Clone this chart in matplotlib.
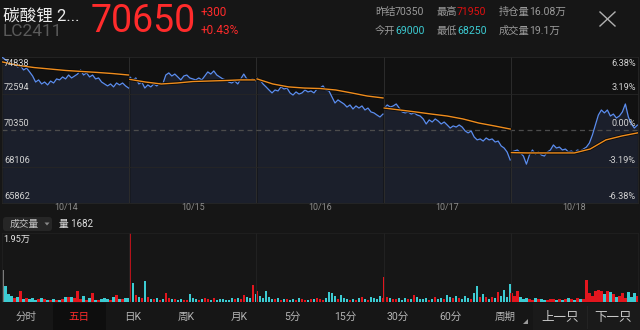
import numpy as np
import matplotlib
matplotlib.use('Agg')
import matplotlib.pyplot as plt
import matplotlib.patheffects as pe
from matplotlib.patches import FancyBboxPatch, Rectangle, Polygon

plt.rcParams['font.family'] = ['Roboto', 'Noto Sans CJK SC', 'DejaVu Sans']

# ---- data ----
days = ['10/14', '10/15', '10/16', '10/17', '10/18']
prev_settle = 70350
price_ticks = [74838, 72594, 70350, 68106, 65862]
pct_ticks = ['6.38%', '3.19%', '0.00%', '-3.19%', '-6.38%']
vol_max = 19500

price_d1 = [74800, 74660, 74470, 74350, 74410, 74230, 74290, 74040, 74160, 73920, 73670,
            73300, 73430, 73180, 73300, 73120, 73360, 73240, 73490, 73430, 73610, 73490,
            73730, 73550, 73670, 73790, 74040, 73730, 73860, 73610, 73730, 73490, 73550,
            73300, 73180, 73060, 73180, 73000, 73240, 73120, 73240, 73060, 72930]
price_d2 = [73610, 73430, 73550, 73180, 73300, 72930, 73120, 73000, 73180, 73060, 73240,
            73180, 73730, 73860, 73670, 73790, 73610, 73430, 73670, 73730, 73550, 73490,
            73430, 73550, 73430, 73670, 73920, 73790, 73980, 73730, 73610, 73490, 73430,
            73300, 73240, 73360, 73180, 73490, 73790, 73490, 73430, 73490, 73360]
price_d3 = [73550, 73430, 73180, 73000, 72810, 72630, 72810, 72750, 73000, 72870, 72930,
            72630, 72500, 72690, 72560, 72630, 72810, 72690, 72750, 72630, 72870, 72930,
            73060, 72810, 72750, 72380, 72010, 72200, 72070, 71950, 71760, 71890, 71640,
            71830, 71700, 71830, 71580, 71700, 71460, 71400, 71270, 71150, 71330]
price_d4 = [71700, 71890, 71760, 71830, 71950, 71700, 71460, 71400, 71460, 71330, 71400,
            71270, 71210, 71030, 70720, 70970, 70840, 71030, 70900, 70720, 70840, 70660,
            70470, 70600, 70530, 70660, 70530, 70290, 70170, 70290, 69920, 69740, 69800,
            69670, 69860, 69740, 69800, 69610, 69670, 69370, 69240, 68990, 68510]
price_d5 = [69000, 69060, 69120, 68940, 68750, 68250, 68810, 69120, 68870, 69000, 68810,
            68750, 69000, 69120, 69430, 69240, 69300, 69120, 69180, 69000, 69060, 68940,
            69120, 69060, 69180, 69300, 69550, 70040, 70660, 71270, 71580, 71400, 71580,
            71210, 71330, 71090, 71210, 71460, 71950, 71150, 70720, 70470, 70650]

avg_d1 = [74530, 74320, 74190, 74100, 74010, 73950, 73890, 73820, 73730]
avg_d2 = [73460, 73300, 73180, 73240, 73330, 73360, 73390, 73430, 73430]
avg_d3 = [73490, 73180, 73000, 72930, 72900, 72810, 72630, 72440, 72320]
avg_d4 = [71700, 71580, 71460, 71330, 71210, 71030, 70780, 70600, 70410]
avg_d5 = [68960, 68940, 68940, 68940, 68940, 69180, 69740, 69980, 70170]

vol_d1 = [9000, 4500, 2200, 1800, 1200, 1500, 3100, 900, 1100, 800, 1000, 700, 900, 1200,
          800, 600, 700, 900, 600, 700, 800, 1400, 1300, 1500, 1200, 3100, 900, 1800, 700,
          1100, 2500, 600, 700, 800, 1200, 900, 600, 1500, 2100, 800, 900, 1000, 1200]
vol_d2 = [19500, 5400, 2000, 1500, 1200, 5900, 1400, 900, 800, 1200, 700, 900, 2500, 1200,
          800, 900, 600, 800, 700, 600, 2400, 1000, 800, 700, 900, 1100, 800, 600, 1000,
          700, 800, 900, 600, 700, 1100, 800, 1200, 900, 2000, 1500, 1200, 4800, 2200]
vol_d3 = [3100, 1800, 1200, 3000, 1500, 900, 800, 1200, 700, 900, 800, 600, 900, 700, 1100,
          800, 600, 700, 900, 800, 1200, 900, 700, 1000, 2900, 2600, 1800, 900, 2000, 1200,
          800, 700, 900, 600, 1100, 1300, 800, 700, 1500, 1200, 900, 1800, 1200]
vol_d4 = [7100, 1500, 1200, 900, 800, 1000, 700, 1200, 900, 800, 2100, 1500, 900, 800, 1100,
          700, 900, 1300, 800, 1100, 900, 2000, 1400, 1100, 1600, 1000, 800, 1800, 1200, 900,
          2600, 4500, 1500, 2400, 1300, 900, 1500, 1100, 2800, 1600, 3500, 1500, 5100]
vol_d5 = [2600, 1800, 3000, 1500, 900, 1200, 800, 700, 1000, 900, 800, 700, 600, 900, 800,
          700, 900, 600, 800, 1200, 900, 700, 1000, 900, 800, 6200, 2500, 1800, 3000, 3300,
          3200, 2400, 3100, 2800, 2200, 1500, 1800, 2500, 1200, 2800, 1300, 2600, 1682]

prices = [price_d1, price_d2, price_d3, price_d4, price_d5]
avgs = [avg_d1, avg_d2, avg_d3, avg_d4, avg_d5]
vols = [vol_d1, vol_d2, vol_d3, vol_d4, vol_d5]

tabs = ['分时', '五日', '日K', '周K', '月K', '5分', '15分', '30分', '60分', '周期']

# ---- colours ----
BG = '#161616'
RED = '#ff2b2b'
TEAL = '#3ccbd2'
GRID = '#262626'

W, H = 640, 330
fig = plt.figure(figsize=(6.4, 3.3), dpi=100, facecolor=BG)

# ---- price panel ----
ax = fig.add_axes([2 / W, 1 - 203 / H, 636 / W, 146 / H])
ax.set_facecolor('#111111')
lo, hi = price_ticks[-1], price_ticks[0]
for d in range(5):
    p = prices[d]
    xs = np.linspace(d + 0.005, d + 0.995, len(p))
    ax.fill_between(xs, p, lo, color='#1b1f2b', lw=0, zorder=1)
    ax.plot(xs, p, color='#5b8def', lw=0.9, zorder=3)
    a = avgs[d]
    xa = np.linspace(d + 0.005, d + 0.995, len(a))
    ax.plot(xa, a, color='#f08d1d', lw=1.0, zorder=4,
            path_effects=[pe.withStroke(linewidth=2.2, foreground='#0a0a0a')])
for d in range(1, 5):
    ax.axvline(d, color='#2c2c2c', lw=0.7, zorder=2)
for v in (price_ticks[1], price_ticks[3]):
    ax.axhline(v, color=GRID, lw=0.6, zorder=2)
ax.axhline(prev_settle, color='#4c4c4c', lw=0.9, dashes=(4, 3), zorder=2)
ax.set_xlim(0, 5)
ax.set_ylim(lo, hi)
ax.set_xticks([])
ax.set_yticks([])
for s in ax.spines.values():
    s.set_color(GRID)
    s.set_linewidth(0.6)
tr = ax.get_yaxis_transform()
for i, (v, t) in enumerate(zip(price_ticks, pct_ticks)):
    va = 'top' if i == 0 else 'bottom'
    yv = v - 150 if i == 0 else v + 100
    ax.text(0.003, yv, str(v), transform=tr, color='#d2d2d2', fontsize=6.6,
            va=va, ha='left', zorder=6)
    ax.text(0.997, yv, t, transform=tr, color='#d2d2d2', fontsize=6.6,
            va=va, ha='right', zorder=6)

# ---- volume panel ----
vx = fig.add_axes([2 / W, 1 - 302 / H, 636 / W, 69 / H])
vx.set_facecolor(BG)
prev = None
for d in range(5):
    p = prices[d]
    v = vols[d]
    xs = np.linspace(d + 0.005, d + 0.995, len(v))
    cols = []
    for j in range(len(v)):
        ref = p[j - 1] if j > 0 else (prev if prev is not None else p[j])
        if p[j] > ref:
            cols.append('#e3161e')
        elif p[j] < ref:
            cols.append(TEAL)
        else:
            cols.append('#7a7a7a')
    if d == 1:
        cols[0] = '#b5121a'
    vx.bar(xs, v, width=0.99 / len(v) * 0.8, color=cols, lw=0)
    prev = p[-1]
for d in range(1, 5):
    vx.axvline(d, color='#222222', lw=0.7)
vx.set_xlim(0, 5)
vx.set_ylim(0, vol_max)
vx.set_xticks([])
vx.set_yticks([])
for s in vx.spines.values():
    s.set_color('#202020')
    s.set_linewidth(0.6)
vx.spines['bottom'].set_visible(False)

# ---- interface layers (pixel coordinates) ----
ui = fig.add_axes([0, 0, 1, 1], zorder=-1)
ui.set_xlim(0, W)
ui.set_ylim(H, 0)
ui.axis('off')

ov = fig.add_axes([0, 0, 1, 1], zorder=10)
ov.set_xlim(0, W)
ov.set_ylim(H, 0)
ov.axis('off')
ov.patch.set_alpha(0)

ov.text(3, 16, '碳酸锂 2...', color='#ececec', fontsize=12, va='center')
ov.text(3, 32, 'LC2411', color='#5a5a5a', fontsize=12.5, va='center')
ov.text(91, 21, '70650', color=RED, fontsize=27, va='center')
ov.text(201, 13, '+300', color=RED, fontsize=8.5, va='center')
ov.text(201, 31, '+0.43%', color=RED, fontsize=8.5, va='center')

info = [(375, 12, '昨结', '70350', '#9a9a9a'),
        (437, 12, '最高', '71950', '#e01010'),
        (499, 12, '持仓量', '16.08万', '#9a9a9a'),
        (375, 31, '今开', '69000', TEAL),
        (437, 31, '最低', '68250', TEAL),
        (499, 31, '成交量', '19.1万', '#9a9a9a')]
for x, y, lab, val, c in info:
    ov.text(x, y, lab, color='#9a9a9a', fontsize=7.4, va='center')
    ov.text(x + 10 * len(lab), y, val, color=c, fontsize=7.6, va='center')

ov.plot([600, 615], [12, 26], color='#b0b0b0', lw=1.0)
ov.plot([600, 615], [26, 12], color='#b0b0b0', lw=1.0)

for d, lab in enumerate(days):
    ov.text(2 + 127.2 * (d + 0.5), 208, lab, color='#8e8e8e', fontsize=6.4,
            ha='center', va='center')

ui.add_patch(FancyBboxPatch((3, 217), 49, 14, boxstyle='round,pad=0,rounding_size=3',
                            fc='#262626', ec='none'))
ov.text(10, 224, '成交量', color='#c4c4c4', fontsize=7, va='center')
ov.add_patch(Polygon([(44.5, 222.5), (49.5, 222.5), (47, 225.5)], closed=True,
                     fc='#8a8a8a', ec='none'))
ov.text(59, 224, '量 1682', color='#dedede', fontsize=7, va='center')
ov.text(3, 239, '1.95万', color='#e6e6e6', fontsize=6.6, va='center')

# ---- tab bar ----
ui.add_patch(Rectangle((53, 303), 53, 27, fc='#0e0e0e', ec='none'))
ui.add_patch(Rectangle((533, 303), 107, 27, fc='#1a1a1a', ec='none'))
ui.plot([587, 587], [306, 328], color='#242424', lw=0.7)
tab_x = [26, 79, 133, 186, 239, 292, 345, 398, 451, 505]
for x, t in zip(tab_x, tabs):
    ov.text(x, 317, t, color=RED if t == '五日' else '#b4b4b4', fontsize=7.6,
            ha='center', va='center')
ov.add_patch(Polygon([(523, 324), (528, 324), (528, 319)], closed=True,
                     fc='#9a9a9a', ec='none'))
ov.text(560, 317, '上一只', color='#c8c8c8', fontsize=9, ha='center', va='center')
ov.text(613, 317, '下一只', color='#c8c8c8', fontsize=9, ha='center', va='center')

fig.savefig('out.png', dpi=100, facecolor=BG)
